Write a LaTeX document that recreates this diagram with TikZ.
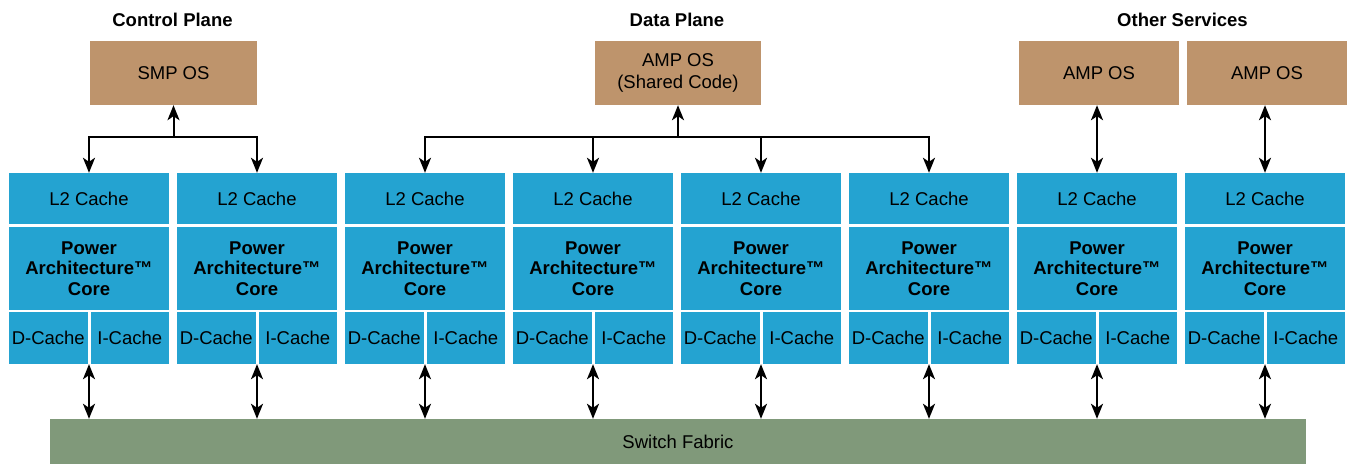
\documentclass[tikz,border=0pt]{standalone}
\usepackage{fontspec}
\setmainfont{Liberation Sans}
\usetikzlibrary{arrows.meta}
\definecolor{osbrown}{RGB}{190,148,108}
\definecolor{coreblue}{RGB}{36,163,209}
\definecolor{fabricgreen}{RGB}{128,153,122}
\tikzset{
  box/.style={inner sep=0pt, align=center, font=\fontsize{18.5}{21}\selectfont},
  osbox/.style={box, fill=osbrown, minimum width=#1, minimum height=64pt},
  l2box/.style={box, fill=coreblue, minimum width=160pt, minimum height=51pt},
  corebox/.style={box, fill=coreblue, minimum width=160pt, minimum height=83pt,
    font=\fontsize{18.5}{20.5}\selectfont\bfseries},
  cachebox/.style={box, fill=coreblue, minimum width=78.5pt, minimum height=52pt},
  title/.style={font=\fontsize{18.5}{21}\selectfont\bfseries, inner sep=0pt},
  link/.style={line width=2pt, -{Stealth[length=15pt,width=12pt,inset=4pt]}},
  dlink/.style={line width=2pt, {Stealth[length=15pt,width=12pt,inset=4pt]}-{Stealth[length=15pt,width=12pt,inset=4pt]}}
}
\begin{document}
\begin{tikzpicture}[x=1pt,y=-1pt]
  \useasboundingbox (0,0) rectangle (1352,464);
  % titles
  \node[title] (tcp) at (172.5,20) {Control Plane};
  \node[title] (tdp) at (677,20) {Data Plane};
  \node[title] (tos) at (1182.5,20) {Other Services};
  % operating systems
  \node[osbox=167pt] (smp) at (173.5,73) {SMP OS};
  \node[osbox=166pt, font=\fontsize{18.5}{22}\selectfont] (amp) at (678,73) {AMP OS\\(Shared Code)};
  \node[osbox=160pt] (os1) at (1099,73) {AMP OS};
  \node[osbox=160pt] (os2) at (1267,73) {AMP OS};
  % cores
  \foreach \i in {1,...,8}{
    \pgfmathsetmacro\cx{89+168*(\i-1)}
    \node[l2box] (l2-\i) at (\cx,198.5) {L2 Cache};
    \node[corebox] (core-\i) at (\cx,268.5) {Power\\Architecture™\\Core};
    \node[cachebox] (dc-\i) at (\cx-40.75,338) {D-Cache};
    \node[cachebox] (ic-\i) at (\cx+40.75,338) {I-Cache};
  }
  % fabric
  \node[box, fill=fabricgreen, minimum width=1256pt, minimum height=45pt] (fabric) at (678,441.5) {Switch Fabric};
  % connectors
  \coordinate (cpj) at (173.5,137);
  \coordinate (dpj) at (678,137);
  \draw[link] (cpj) -- (smp.south);
  \draw[link] (cpj) -| (l2-1.north);
  \draw[link] (cpj) -| (l2-2.north);
  \draw[link] (dpj) -- (amp.south);
  \foreach \i in {3,...,6}
    \draw[link] (dpj) -| (l2-\i.north);
  \draw[dlink] (l2-7.north) -- (l2-7.north |- os1.south);
  \draw[dlink] (l2-8.north) -- (l2-8.north |- os2.south);
  \foreach \i in {1,...,8}
    \draw[dlink] (core-\i.center |- dc-\i.south) -- (core-\i.center |- fabric.north);
\end{tikzpicture}
\end{document}
